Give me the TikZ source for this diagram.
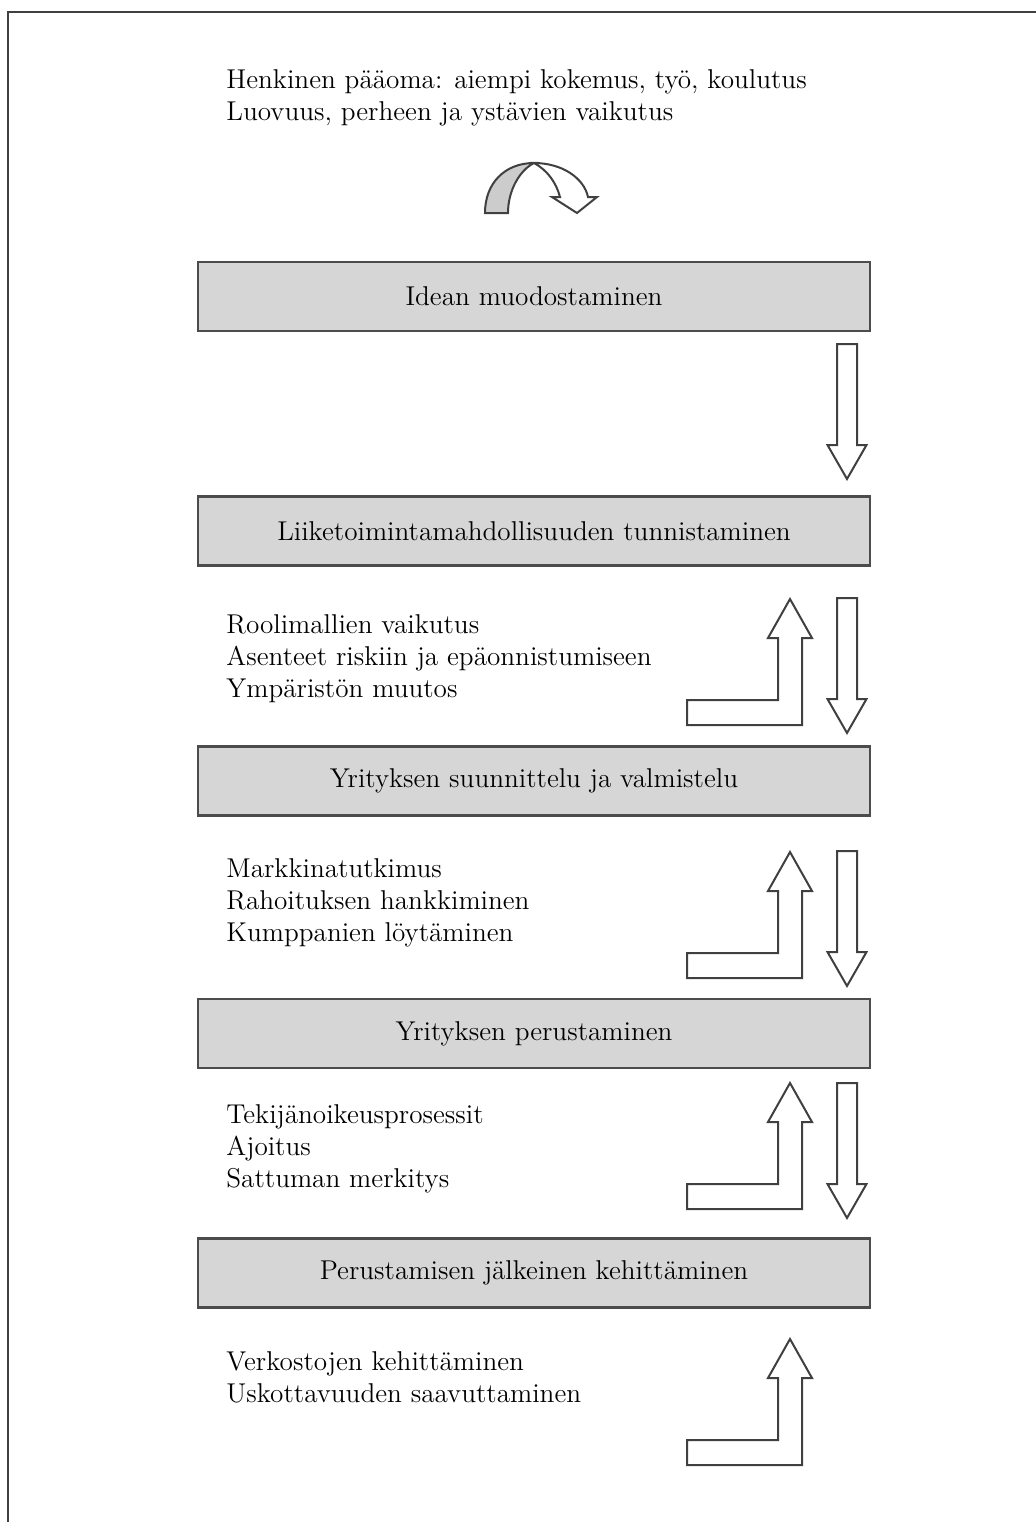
\documentclass[tikz,border=0pt]{standalone}
\usepackage{tikz}
\usetikzlibrary{positioning}
\tikzset{%
	stage/.style={draw=black!70, line width=1.2pt, fill=black!16, minimum width=336pt,%
		minimum height=34.5pt, inner sep=0pt, font=\fontsize{13.6}{16}\selectfont},
	note/.style={align=left, anchor=west, inner sep=0pt, font=\fontsize{13.6}{16}\selectfont},
	blockarrow/.style={draw=black!75, line width=1pt, fill=white, line join=miter},
	frame/.style={draw=black!75, line width=1pt},
	downarrow/.pic={\draw[blockarrow] (-10,0) -- (10,0) -- (10,101) -- (19.5,101) -- (0,135) -- (-19.5,101) -- (-10,101) -- cycle;},
	uparrow/.pic={\draw[blockarrow] (0,0) -- (22,39) -- (12,39) -- (12,126) -- (-103,126) -- (-103,101) -- (-12,101) -- (-12,39) -- (-22,39) -- cycle;}
}
\begin{document}
\begin{tikzpicture}[x=0.5pt, y=-0.5pt]
	\useasboundingbox (0,0) rectangle (1036,1522);
	\draw[frame] (8,1522) -- (8,12) -- (1036,12);

	\node[note] (paaoma) at (226,97.5) {Henkinen pääoma: aiempi kokemus, työ, koulutus\\Luovuus, perheen ja ystävien vaikutus};

	% curved arrow
	\draw[blockarrow, fill=black!20] (485,213) .. controls (485,183) and (505,163) .. (534,163) .. controls (520,170) and (508,190) .. (508,213) -- cycle;
	\draw[blockarrow] (534,163) .. controls (562,163) and (584,178) .. (588,197) -- (597,197) -- (577,213) -- (552,197) -- (560,197) .. controls (556,182) and (547,170) .. (534,163) -- cycle;

	\node[stage] (idea) at (534,296.5) {Idean muodostaminen};
	\node[stage, below=81.5pt of idea] (tunnistus) {Liiketoimintamahdollisuuden tunnistaminen};
	\node[stage, below=89.25pt of tunnistus] (suunnittelu) {Yrityksen suunnittelu ja valmistelu};
	\node[stage, below=90.75pt of suunnittelu] (perustaminen) {Yrityksen perustaminen};
	\node[stage, below=84pt of perustaminen] (kehitys) {Perustamisen jälkeinen kehittäminen};

	\node[note] (roolit) at (226,658.5) {Roolimallien vaikutus\\Asenteet riskiin ja epäonnistumiseen\\Ympäristön muutos};
	\node[note] (markkinat) at (226,902.5) {Markkinatutkimus\\Rahoituksen hankkiminen\\Kumppanien löytäminen};
	\node[note] (prosessit) at (226,1148.5) {Tekijänoikeusprosessit\\Ajoitus\\Sattuman merkitys};
	\node[note] (verkostot) at (226,1377) {Verkostojen kehittäminen\\Uskottavuuden saavuttaminen};

	% block arrows
	\pic at (847,344) {downarrow};
	\pic at (847,598) {downarrow};
	\pic at (847,851) {downarrow};
	\pic at (847,1083) {downarrow};
	\pic at (790,599) {uparrow};
	\pic at (790,852) {uparrow};
	\pic at (790,1083) {uparrow};
	\pic at (790,1339) {uparrow};
\end{tikzpicture}
\end{document}
